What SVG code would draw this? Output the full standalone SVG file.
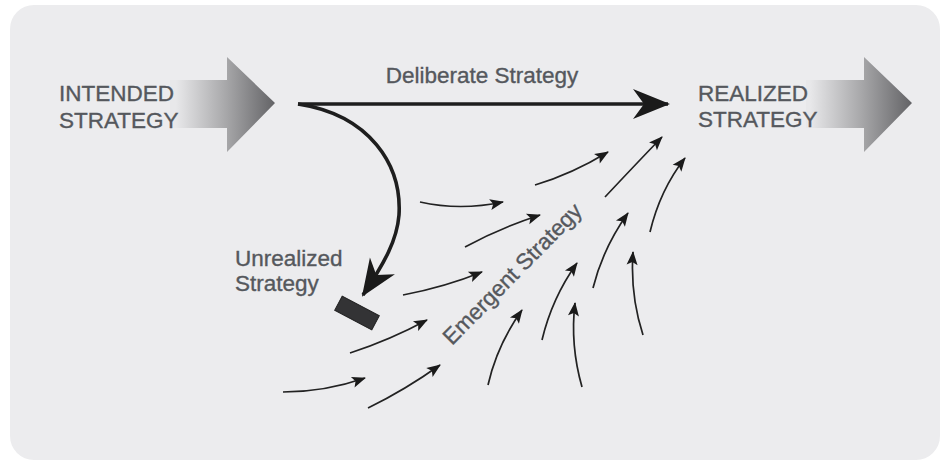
<svg xmlns="http://www.w3.org/2000/svg" width="944" height="463" viewBox="0 0 944 463">
  <style>
    .lbl { font-family: "Liberation Sans", Arial, sans-serif; font-size: 22.5px; fill: #55585d; stroke: #55585d; stroke-width: 0.35; }
    .main { fill: none; stroke: #1e1e1e; stroke-width: 3.6; }
    .thin { fill: none; stroke: #222; stroke-width: 1.7; }
  </style>
  <defs>
    <linearGradient id="gL" gradientUnits="userSpaceOnUse" x1="176" y1="0" x2="275" y2="0">
      <stop offset="0" stop-color="#e8e8ea"/>
      <stop offset="0.5" stop-color="#a8a8aa"/>
      <stop offset="1" stop-color="#636366"/>
    </linearGradient>
    <linearGradient id="gR" gradientUnits="userSpaceOnUse" x1="810" y1="0" x2="912" y2="0">
      <stop offset="0" stop-color="#e8e8ea"/>
      <stop offset="0.5" stop-color="#a8a8aa"/>
      <stop offset="1" stop-color="#636366"/>
    </linearGradient>
    <marker id="big" markerUnits="userSpaceOnUse" viewBox="-40 -20 45 40" refX="0" refY="0" markerWidth="45" markerHeight="40" orient="auto">
      <path d="M2,0 L-35,-15 L-24,0 L-35,15 Z" fill="#1a1a1a"/>
    </marker>
    <marker id="sm" markerUnits="userSpaceOnUse" viewBox="-16 -8 18 16" refX="0" refY="0" markerWidth="18" markerHeight="16" orient="auto">
      <path d="M1,0 L-13,-5.5 L-10,0 L-13,5.5 Z" fill="#1a1a1a"/>
    </marker>
  </defs>

  <rect x="0" y="0" width="944" height="463" fill="#ffffff"/>
  <rect x="10" y="5" width="930" height="455" rx="24" ry="24" fill="#ececee"/>

  <g id="intended">
    <polygon points="170,80 227,80 227,57 275,103 227,152 227,128 170,128" fill="url(#gL)"/>
    <text class="lbl" x="59" y="101">INTENDED</text>
    <text class="lbl" x="59" y="128">STRATEGY</text>
  </g>

  <g id="realized">
    <polygon points="806,80 864,80 864,57 912,103 864,152 864,128 806,128" fill="url(#gR)"/>
    <text class="lbl" x="698" y="101">REALIZED</text>
    <text class="lbl" x="698" y="127">STRATEGY</text>
  </g>

  <g id="unrealized">
    <rect x="-21" y="-8" width="42" height="16" fill="#333335" stroke="#222" stroke-width="1" transform="translate(357,313) rotate(28)"/>
    <text class="lbl" x="235" y="266">Unrealized</text>
    <text class="lbl" x="235" y="291">Strategy</text>
  </g>

  <g id="labels">
    <text class="lbl" x="482" y="83" text-anchor="middle">Deliberate Strategy</text>
    <text class="lbl" transform="translate(452,346) rotate(-45.5)">Emergent Strategy</text>
  </g>

  <g id="connectors">
    <path class="main" d="M298,104 L668,104" marker-end="url(#big)"/>
    <path class="main" d="M298,104 C370,115 402,165 399,215 C397,240 385,262 363,295" marker-end="url(#big)"/>

    <path class="thin" d="M420,202 Q460,211 503,202" marker-end="url(#sm)"/>
    <path class="thin" d="M465,247 Q500,228 540,215" marker-end="url(#sm)"/>
    <path class="thin" d="M403,295 Q445,287 482,272" marker-end="url(#sm)"/>
    <path class="thin" d="M350,353 Q390,340 427,320" marker-end="url(#sm)"/>
    <path class="thin" d="M283,392 Q325,392 365,378" marker-end="url(#sm)"/>
    <path class="thin" d="M368,408 Q405,390 440,365" marker-end="url(#sm)"/>
    <path class="thin" d="M535,185 Q572,174 608,152" marker-end="url(#sm)"/>
    <path class="thin" d="M605,197 Q635,165 662,137" marker-end="url(#sm)"/>
    <path class="thin" d="M650,232 Q660,190 685,158" marker-end="url(#sm)"/>
    <path class="thin" d="M593,288 Q603,248 628,213" marker-end="url(#sm)"/>
    <path class="thin" d="M542,340 Q552,298 577,263" marker-end="url(#sm)"/>
    <path class="thin" d="M488,385 Q497,345 522,310" marker-end="url(#sm)"/>
    <path class="thin" d="M582,387 Q570,345 575,303" marker-end="url(#sm)"/>
    <path class="thin" d="M643,335 Q630,295 633,252" marker-end="url(#sm)"/>
  </g>
</svg>
